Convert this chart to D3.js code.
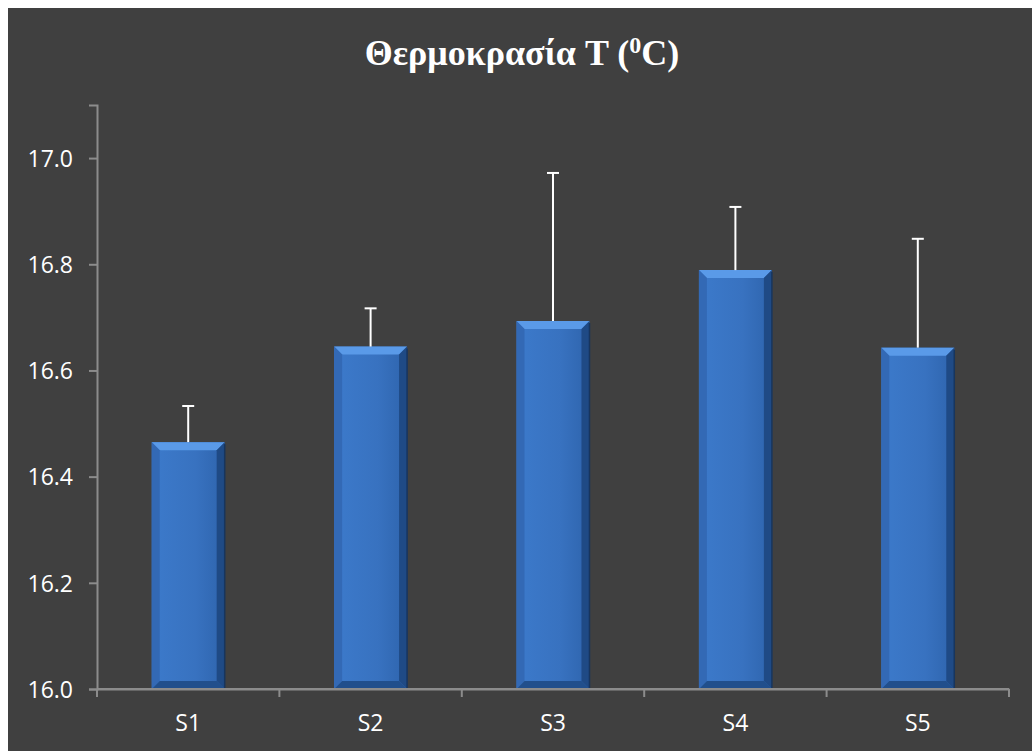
<!DOCTYPE html>
<html>
<head>
<meta charset="utf-8">
<script src="https://cdn.jsdelivr.net/npm/d3@7"></script>
<style>
	html, body { margin: 0; padding: 0; background: #ffffff; }
	svg { display: block; }
</style>
</head>
<body>
<div id="chart"></div>
<script>
// Chart data
var categories = ['S1', 'S2', 'S3', 'S4', 'S5'];
var means = [16.465, 16.645, 16.693, 16.789, 16.643];
var errors = [0.068, 0.072, 0.279, 0.119, 0.205];
var yTicks = [16.0, 16.2, 16.4, 16.6, 16.8, 17.0];
var yDomain = [16.0, 17.1];

var width = 1032;
var height = 751;
var margin = { top: 105, right: 23, bottom: 62, left: 97 };
var labelFont = '"Open Sans", "Liberation Sans", sans-serif';

var svg = d3.select('#chart')
	.append('svg')
	.attr('width', width)
	.attr('height', height);

// Background panel
svg.append('rect')
	.attr('x', 8)
	.attr('y', 8)
	.attr('width', width - 8)
	.attr('height', height - 8)
	.attr('fill', '#404040');

// Gradient for the bar face
var defs = svg.append('defs');
var face = defs.append('linearGradient')
	.attr('id', 'face')
	.attr('x1', 0).attr('x2', 1).attr('y1', 0).attr('y2', 0);
face.append('stop').attr('offset', '0%').attr('stop-color', '#3c7acb');
face.append('stop').attr('offset', '60%').attr('stop-color', '#3872c0');
face.append('stop').attr('offset', '100%').attr('stop-color', '#2e64ad');

var x = d3.scaleBand()
	.domain(categories)
	.range([margin.left, width - margin.right])
	.paddingInner(0.6)
	.paddingOuter(0.3);

var y = d3.scaleLinear()
	.domain(yDomain)
	.range([height - margin.bottom, margin.top]);

/***********************************************************
  Axes
***********************************************************/
var yAxis = svg.append('g')
	.attr('transform', 'translate(' + margin.left + ',0)')
	.call(d3.axisLeft(y).tickValues(yTicks).tickFormat(d3.format('.1f')).tickSizeOuter(0).tickSize(8).tickPadding(16));

var xScaleEdge = d3.scaleBand().domain(categories).range([margin.left, width - margin.right]);
var xAxis = svg.append('g')
	.attr('transform', 'translate(0,' + (height - margin.bottom) + ')')
	.call(d3.axisBottom(xScaleEdge).tickSize(0).tickPadding(26));

// category separators (ticks between categories)
var edges = categories.map(function(c) { return xScaleEdge(c); }).concat([width - margin.right]);
xAxis.selectAll('line.sep')
	.data(edges)
	.enter().append('line')
	.attr('class', 'sep')
	.attr('x1', function(d) { return d; })
	.attr('x2', function(d) { return d; })
	.attr('y1', 0)
	.attr('y2', 8);

[yAxis, xAxis].forEach(function(g) {
	g.select('.domain').attr('stroke', '#8c8c8c').attr('stroke-width', 2);
	g.selectAll('line').attr('stroke', '#8c8c8c').attr('stroke-width', 2);
	g.selectAll('text')
		.attr('fill', '#ffffff')
		.style('font-family', labelFont)
		.style('font-size', '23px');
});
yAxis.selectAll('text').attr('dy', '0.36em');

/***********************************************************
  Bars with bevel
***********************************************************/
var bev = 8;
var bars = svg.append('g');
categories.forEach(function(c, i) {
	var x0 = x(c), x1 = x(c) + x.bandwidth();
	var y0 = y(means[i]), y1 = y(yDomain[0]);
	var g = bars.append('g');
	g.append('rect')
		.attr('x', x0).attr('y', y0)
		.attr('width', x1 - x0).attr('height', y1 - y0)
		.attr('fill', 'url(#face)');
	// top bevel
	g.append('polygon')
		.attr('points', [[x0, y0], [x1, y0], [x1 - bev, y0 + bev], [x0 + bev, y0 + bev]].join(' '))
		.attr('fill', '#5a9ae8');
	// left bevel
	g.append('polygon')
		.attr('points', [[x0, y0], [x0 + bev, y0 + bev], [x0 + bev, y1 - bev], [x0, y1]].join(' '))
		.attr('fill', '#3369b5');
	// right bevel
	g.append('polygon')
		.attr('points', [[x1, y0], [x1 - bev, y0 + bev], [x1 - bev, y1 - bev], [x1, y1]].join(' '))
		.attr('fill', '#1f4a85');
	// bottom bevel
	g.append('polygon')
		.attr('points', [[x0, y1], [x0 + bev, y1 - bev], [x1 - bev, y1 - bev], [x1, y1]].join(' '))
		.attr('fill', '#214f8c');
	// dark edge on the right
	g.append('line')
		.attr('x1', x1).attr('x2', x1).attr('y1', y0 + 2).attr('y2', y1)
		.attr('stroke', '#17355e').attr('stroke-width', 1.5);
});

/***********************************************************
  Error bars (upper only)
***********************************************************/
var errG = svg.append('g');
categories.forEach(function(c, i) {
	var cx = x(c) + x.bandwidth() / 2;
	errG.append('line')
		.attr('x1', cx).attr('x2', cx)
		.attr('y1', y(means[i])).attr('y2', y(means[i] + errors[i]))
		.attr('stroke', '#ffffff').attr('stroke-width', 2);
	errG.append('line')
		.attr('x1', cx - 6).attr('x2', cx + 6)
		.attr('y1', y(means[i] + errors[i])).attr('y2', y(means[i] + errors[i]))
		.attr('stroke', '#ffffff').attr('stroke-width', 2);
});

// x axis line over the bars
svg.append('line')
	.attr('x1', margin.left).attr('x2', width - margin.right)
	.attr('y1', height - margin.bottom).attr('y2', height - margin.bottom)
	.attr('stroke', '#8c8c8c').attr('stroke-width', 2);

/***********************************************************
  Title
***********************************************************/
var title = svg.append('text')
	.attr('x', 522)
	.attr('y', 65)
	.attr('text-anchor', 'middle')
	.attr('fill', '#ffffff')
	.style('font-family', '"Liberation Serif", "Times New Roman", serif')
	.style('font-weight', 'bold')
	.style('font-size', '36px');
title.append('tspan').text('Θερμοκρασία T (');
title.append('tspan').attr('dy', -12).style('font-size', '24px').text('0');
title.append('tspan').attr('dy', 12).text('C)');
</script>
</body>
</html>
